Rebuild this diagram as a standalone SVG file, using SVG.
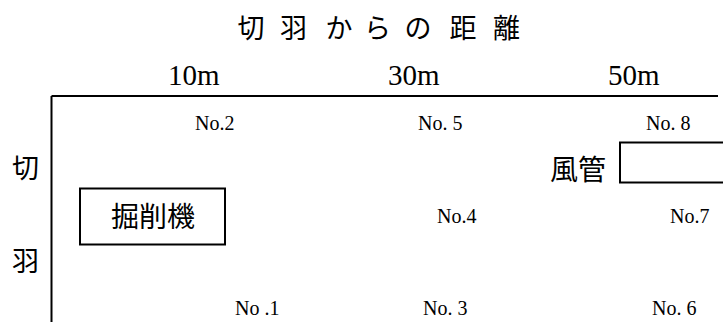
<svg xmlns="http://www.w3.org/2000/svg" width="723" height="322" viewBox="0 0 723 322">
<style>
.jp{font-family:"Noto Sans CJK JP","Noto Sans CJK SC",sans-serif;fill:#000}
.num{font-family:"Liberation Serif",serif;fill:#000}
.ln{fill:none;stroke:#000;stroke-width:2}
</style>
<rect width="723" height="322" fill="#fff"/>
<text class="jp" font-size="27" y="38" x="237.5 258 280 301 325.5 348 364 386 404.5 428 449.5 473 493">切 羽 か ら の 距 離</text>
<g id="axis-labels">
<text class="num" font-size="29" x="168" y="85">10m</text>
<text class="num" font-size="29" x="388" y="85">30m</text>
<text class="num" font-size="29" x="608" y="85">50m</text>
</g>
<g id="frame">
<path class="ln" d="M51.5 96H718M51.5 96V322"/>
</g>
<g id="side-labels">
<text class="jp" font-size="27" x="12" y="178">切</text>
<text class="jp" font-size="27" x="12" y="271">羽</text>
</g>
<g id="points">
<text class="num" font-size="20" x="195" y="130">No.2</text>
<text class="num" font-size="20" x="418" y="130">No. 5</text>
<text class="num" font-size="20" x="646" y="130">No. 8</text>
<text class="num" font-size="20" x="437" y="223">No.4</text>
<text class="num" font-size="20" x="670" y="223">No.7</text>
<text class="num" font-size="20" x="235" y="315">No .1</text>
<text class="num" font-size="20" x="423" y="315">No. 3</text>
<text class="num" font-size="20" x="652" y="315">No. 6</text>
</g>
<g id="excavator">
<rect class="ln" x="80" y="188.5" width="145" height="56"/>
<text class="jp" font-size="28" x="153" y="227" text-anchor="middle">掘削機</text>
</g>
<g id="duct">
<text class="jp" font-size="28" x="550" y="180">風管</text>
<rect class="ln" x="620" y="142.5" width="110" height="40"/>
</g>
</svg>
